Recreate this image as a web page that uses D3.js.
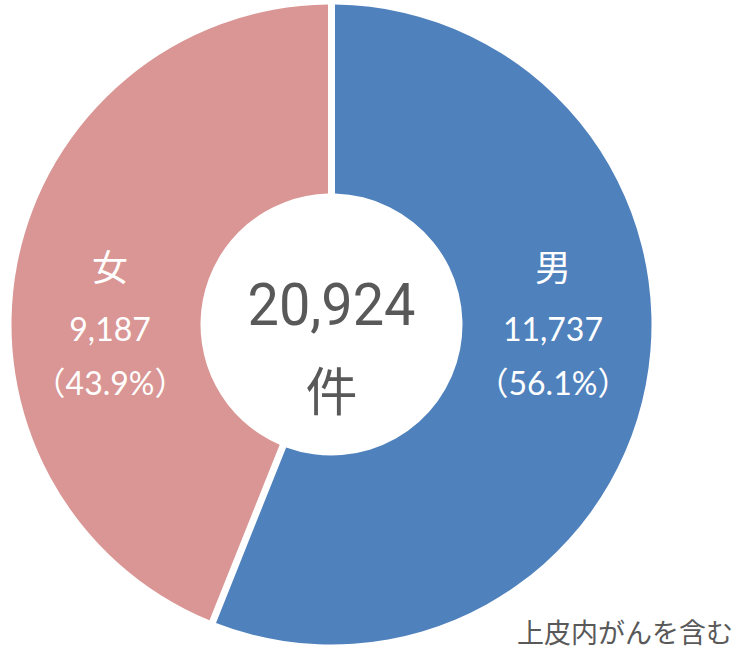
<!DOCTYPE html>
<html>
<head>
<meta charset="utf-8">
<script src="https://cdn.jsdelivr.net/npm/d3@7"></script>
<style>
  body{margin:0;background:#fff;}
  svg{display:block;}
</style>
</head>
<body>
<svg id="chart"></svg>
<script>
// data
var categories = ["男","女"];
var counts = [11737, 9187];
var percents = [56.1, 43.9];
var colorList = ["#4F81BD","#D99694"];
var totalLabel = "20,924";
var unitLabel = "件";
var note = "上皮内がんを含む";

makeChart(738,650,"svg#chart");

function makeChart(w,h,svgName){
  var svg = d3.select(svgName)
              .attr("width",w)
              .attr("height",h);

  var cx = 331.5, cy = 324.5;
  var outerR = 320, innerR = 131;

  var data = categories.map(function(c,i){
    return {name:c, value:counts[i], pct:percents[i]};
  });

  var colors = d3.scaleOrdinal()
                 .domain(categories)
                 .range(colorList);

  var pie = d3.pie()
              .sort(null)
              .value(function(d){return d.value;})
              .padAngle(7/outerR);

  var arc = d3.arc()
              .innerRadius(innerR)
              .outerRadius(outerR)
              .padRadius(outerR);

  var plot = svg.append("g")
                .classed("plot",true)
                .attr("transform","translate("+cx+","+cy+")");

  var slices = plot.selectAll("g")
                   .data(pie(data))
                   .enter()
                   .append("g");

  slices.append("path")
        .attr("d",arc)
        .attr("fill",function(d){return colors(d.data.name);});

  var labelArc = d3.arc()
                   .innerRadius(innerR)
                   .outerRadius(outerR);

  // labels sit on the same row for both slices, x from the centroid
  var labels = slices.append("g")
                     .attr("font-family","Lato, 'Noto Sans CJK JP', sans-serif")
                     .attr("fill","#fff")
                     .attr("text-anchor","middle")
                     .attr("transform",function(d){
                       var c = labelArc.centroid(d);
                       return "translate("+c[0]+",0)";
                     });

  labels.append("text")
        .attr("y",-44)
        .attr("font-family","'Noto Sans CJK JP', sans-serif")
        .attr("font-size",36)
        .text(function(d){return d.data.name;});

  labels.append("text")
        .attr("y",16)
        .attr("font-size",32)
        .text(function(d){return d3.format(",")(d.data.value);});

  labels.append("text")
        .attr("y",70)
        .attr("font-size",32)
        .text(function(d){return "（"+d.data.pct.toFixed(1)+"%）";});

  // centre total
  plot.append("text")
      .attr("text-anchor","middle")
      .attr("y",0)
      .attr("font-family","Roboto, 'Liberation Sans', sans-serif")
      .attr("font-size",59)
      .attr("fill","#595959")
      .attr("textLength",168)
      .attr("lengthAdjust","spacingAndGlyphs")
      .text(totalLabel);

  plot.append("text")
      .attr("text-anchor","middle")
      .attr("y",86)
      .attr("font-family","'Noto Sans CJK JP', sans-serif")
      .attr("font-size",52)
      .attr("fill","#595959")
      .text(unitLabel);

  svg.append("text")
     .attr("x",733)
     .attr("y",643)
     .attr("text-anchor","end")
     .attr("font-family","'Noto Sans CJK JP', sans-serif")
     .attr("font-size",27)
     .attr("fill","#595959")
     .text(note);
}
</script>
</body>
</html>
